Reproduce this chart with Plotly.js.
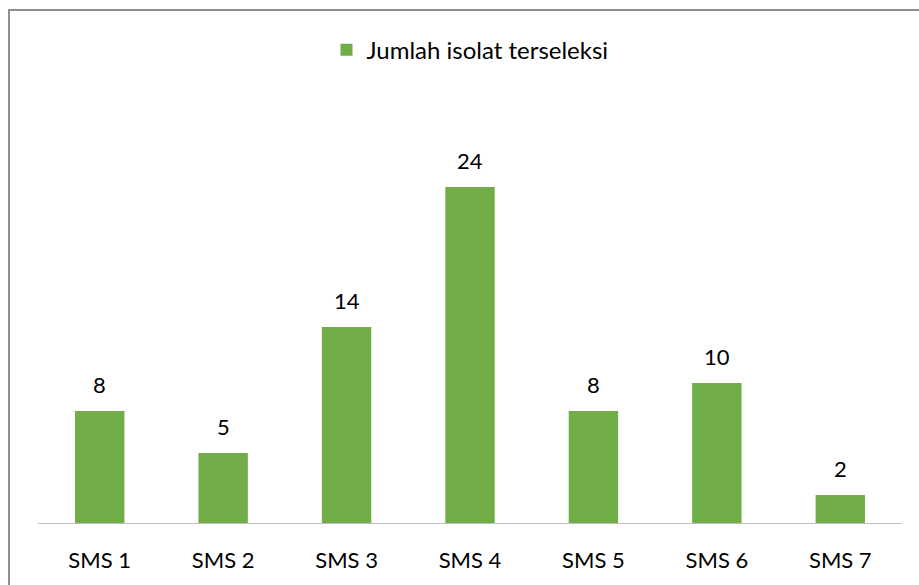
<!DOCTYPE html>
<html>
<head>
<meta charset="utf-8">
<script src="https://cdn.plot.ly/plotly-3.0.1.min.js"></script>
<style>
html,body{margin:0;padding:0;background:#fff;overflow:hidden;}
#chart{width:919px;height:585px;position:absolute;left:0;top:0;}
#frame{position:absolute;left:8px;top:9px;width:1200px;height:1000px;border:2px solid #8e8e8e;pointer-events:none;box-sizing:border-box;}
</style>
</head>
<body>
<div id="chart"></div>
<div id="frame"></div>
<script>
const categories = ["SMS 1","SMS 2","SMS 3","SMS 4","SMS 5","SMS 6","SMS 7"];
const values = [8, 5, 14, 24, 8, 10, 2];
const seriesName = "Jumlah isolat terseleksi";

const FONT = "Lato, 'Open Sans', sans-serif";

const trace = {
  type: "bar",
  x: categories,
  y: values,
  name: seriesName,
  marker: {color: "#70ad47"},
  showlegend: true,
  hoverinfo: "x+y"
};

const annotations = categories.map((c, i) => ({
  x: c, y: values[i], xref: "x", yref: "y",
  text: String(values[i]),
  showarrow: false,
  yanchor: "bottom",
  yshift: 11,
  font: {family: FONT, size: 22, color: "#000"}
}));

const layout = {
  width: 919, height: 585,
  margin: {l: 38, r: 17, t: 103, b: 62, pad: 0},
  paper_bgcolor: "#fff",
  plot_bgcolor: "#fff",
  bargap: 0.6,
  font: {family: FONT, size: 22, color: "#000"},
  showlegend: true,
  legend: {
    orientation: "h",
    x: 0.5, xanchor: "center",
    y: 1.126, yanchor: "middle",
    font: {family: FONT, size: 24, color: "#000"},
    itemwidth: 30
  },
  xaxis: {
    type: "category",
    showline: true, linecolor: "#bfbfbf", linewidth: 1,
    ticks: "", showgrid: false, zeroline: false,
    tickfont: {family: FONT, size: 22, color: "#000"},
    ticklabelstandoff: 18
  },
  yaxis: {
    range: [0, 30],
    visible: false,
    showgrid: false, zeroline: false
  },
  annotations: annotations
};

Plotly.newPlot("chart", [trace], layout, {displayModeBar: false, staticPlot: true});
</script>
</body>
</html>
